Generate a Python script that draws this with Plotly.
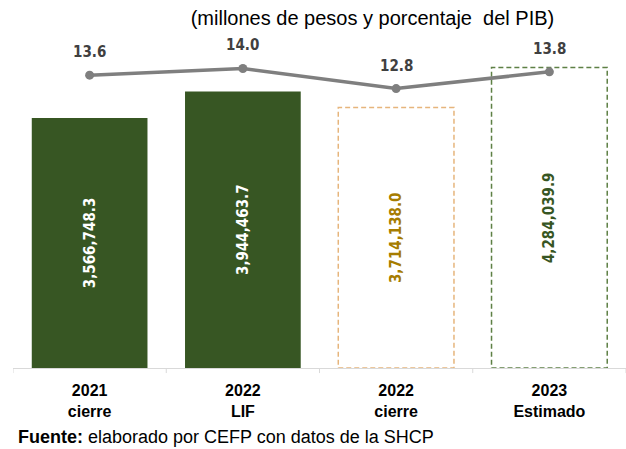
import plotly.graph_objects as go

categories = ["2021<br>cierre", "2022<br>LIF", "2022<br>cierre", "2023<br>Estimado"]
montos = [3566748.3, 3944463.7, 3714138.0, 4284039.9]
pct_pib = [13.6, 14.0, 12.8, 13.8]
bar_fill = ["#375623", "#375623", "rgba(0,0,0,0)", "rgba(0,0,0,0)"]
label_colors = ["#FFFFFF", "#FFFFFF", "#A67C00", "#375623"]
dash_colors = [None, None, "#E6B57C", "#5E8045"]

BAR_W = 0.755
FONT = "Liberation Sans, Arial, sans-serif"
LBL_FONT = "DejaVu Sans Condensed, Liberation Sans, sans-serif"

fig = go.Figure()
fig.add_trace(go.Bar(
    x=list(range(len(categories))), y=montos, width=BAR_W,
    marker=dict(color=bar_fill, line=dict(width=0)),
    text=[f"{v:,.1f}" for v in montos],
    textposition="inside", insidetextanchor="middle", textangle=-90,
    textfont=dict(color=label_colors, size=15, family=LBL_FONT, weight="bold"),
    cliponaxis=False, showlegend=False, hoverinfo="skip",
))

# dashed outlines for the non-filled bars, placed from data through axes
for i, (v, c) in enumerate(zip(montos, dash_colors)):
    if c is None:
        continue
    fig.add_shape(type="rect", xref="x", yref="y",
                  x0=i - BAR_W / 2, x1=i + BAR_W / 2, y0=0, y1=v,
                  line=dict(color=c, width=1.5, dash="5px,3px"), fillcolor="rgba(0,0,0,0)",
                  layer="below")

fig.add_trace(go.Scatter(
    x=list(range(len(categories))), y=pct_pib, yaxis="y2", mode="lines+markers",
    line=dict(color="#7F7F7F", width=3.5), marker=dict(color="#7F7F7F", size=9),
    showlegend=False, hoverinfo="skip", cliponaxis=False,
))

for i, v in enumerate(pct_pib):
    fig.add_annotation(x=i, y=v, xref="x", yref="y2", text=f"<b>{v:.1f}</b>",
                       showarrow=False, yshift=23,
                       font=dict(color="#404040", size=15, family=LBL_FONT))

fig.update_layout(
    width=626, height=449,
    margin=dict(l=13, r=0, t=30, b=81),
    paper_bgcolor="white", plot_bgcolor="white",
    title=dict(text="(millones de pesos y porcentaje  del PIB)", x=0.595, xanchor="center",
               y=0.96, yanchor="middle",
               font=dict(family=FONT, size=20, color="#000000")),
    xaxis=dict(tickmode="array", tickvals=list(range(len(categories))), ticktext=categories,
               range=[-0.5, 3.5], showgrid=False, zeroline=False,
               showline=True, linecolor="#D9D9D9", linewidth=1,
               ticks="outside", ticklen=8, tickcolor="rgba(0,0,0,0)",
               tickfont=dict(family=FONT, size=16, color="#000000", weight="bold")),
    yaxis=dict(range=[0, 4820000], visible=False, showgrid=False, zeroline=False),
    yaxis2=dict(range=[-3.9, 16.3], overlaying="y", visible=False, showgrid=False, zeroline=False),
    font=dict(family=FONT),
)

# category boundary tick marks
for b in [-0.5, 0.5, 1.5, 2.5, 3.5]:
    fig.add_shape(type="line", xref="x", yref="paper", x0=b, x1=b, y0=0, y1=-0.015,
                  line=dict(color="#D9D9D9", width=1))

fig.add_annotation(text="<b>Fuente:</b> elaborado por CEFP con datos de la SHCP",
                   xref="paper", yref="paper", x=0.005, xanchor="left", y=-0.205, yanchor="middle",
                   showarrow=False, font=dict(family=FONT, size=18, color="#000000"))

fig.write_html("out.html", config={"displayModeBar": False},
               post_script="document.body.style.margin='0';")
